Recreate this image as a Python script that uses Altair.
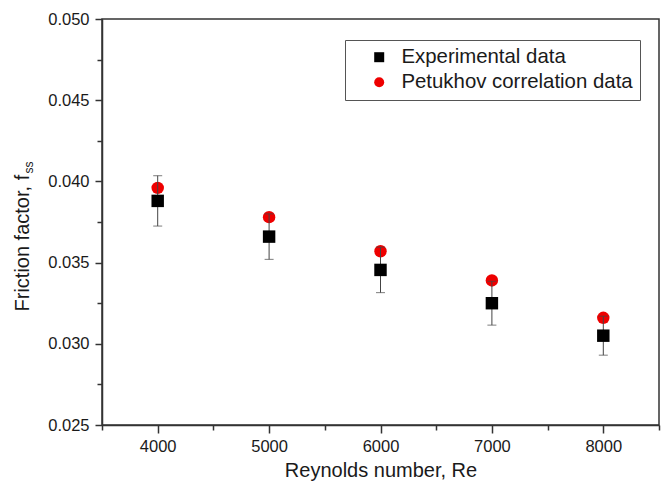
import altair as alt
import pandas as pd

# Reynolds numbers tested
reynolds = [4000, 5000, 6000, 7000, 8000]
# Measured friction factor and its uncertainty
f_experimental = [0.0388, 0.0366, 0.03455, 0.0325, 0.0305]
f_error = [0.00155, 0.0014, 0.0014, 0.00135, 0.0012]
# Friction factor from the Petukhov correlation
f_petukhov = [0.0396, 0.0378, 0.0357, 0.0339, 0.0316]

series_names = ["Experimental data", "Petukhov correlation data"]
series_colors = ["#000000", "#ee0000"]
series_shapes = ["square", "circle"]

exp_df = pd.DataFrame({
    "Re": reynolds,
    "f": f_experimental,
    "err": f_error,
    "series": series_names[0],
})
pet_df = pd.DataFrame({
    "Re": reynolds,
    "f": f_petukhov,
    "series": series_names[1],
})

FONT = "Liberation Sans"
TEXT = "#1a1a1a"

x_ticks = [3500 + 500 * i for i in range(11)]
y_ticks = [round(0.025 + 0.0025 * i, 4) for i in range(11)]

x_scale = alt.Scale(domain=[3500, 8500], nice=False, zero=False)
y_scale = alt.Scale(domain=[0.025, 0.050], nice=False, zero=False)

x_axis = alt.Axis(
    values=x_ticks,
    labelExpr="datum.value % 1000 == 0 ? format(datum.value, 'd') : ''",
    tickSize={"condition": {"test": "datum.value % 1000 == 0", "value": 8}, "value": 5},
    title="Reynolds number, Re",
    titleFontSize=20,
    titleFontWeight="normal",
    titleFont=FONT,
    titleColor=TEXT,
    titlePadding=6,
    labelFontSize=16.5,
    labelFont=FONT,
    labelColor=TEXT,
    labelPadding=5,
    grid=False,
    domainColor="#333333",
    domainWidth=1.5,
    tickColor="#333333",
    tickWidth=1.5,
)
y_axis = alt.Axis(
    values=y_ticks,
    labelExpr="round(datum.value * 400) % 2 == 0 ? format(datum.value, '.3f') : ''",
    tickSize={"condition": {"test": "round(datum.value * 400) % 2 == 0", "value": 7}, "value": 5},
    title=None,
    labelFontSize=16.5,
    labelFont=FONT,
    labelColor=TEXT,
    labelPadding=6,
    grid=False,
    domainColor="#333333",
    domainWidth=1.5,
    tickColor="#333333",
    tickWidth=1.5,
)

color = alt.Color(
    "series:N",
    scale=alt.Scale(domain=series_names, range=series_colors),
    legend=alt.Legend(
        title=None,
        orient="none",
        legendX=243,
        legendY=21,
        direction="vertical",
        labelFontSize=20.4,
        labelFont=FONT,
        labelColor=TEXT,
        symbolSize=100,
        symbolStrokeWidth=0,
        symbolOffset=17,
        labelOffset=12,
        padding=7,
        rowPadding=4,
        strokeColor="#555555",
        fillColor="white",
        labelLimit=400,
    ),
)
shape = alt.Shape(
    "series:N",
    scale=alt.Scale(domain=series_names, range=series_shapes),
    legend=None,
)

x_enc = alt.X("Re:Q", scale=x_scale, axis=x_axis)
y_enc = alt.Y("f:Q", scale=y_scale, axis=y_axis)

petukhov_points = alt.Chart(pet_df).mark_point(filled=True, size=155, opacity=1).encode(
    x=x_enc, y=y_enc, color=color, shape=shape
)

error_bars = alt.Chart(exp_df).mark_errorbar(
    ticks={"size": 9, "thickness": 1, "color": "#444444"},
    rule={"color": "#444444", "strokeWidth": 1},
).encode(
    x=alt.X("Re:Q", scale=x_scale),
    y=alt.Y("f:Q", scale=y_scale),
    yError="err:Q",
)

experimental_points = alt.Chart(exp_df).mark_point(filled=True, size=155, opacity=1).encode(
    x=x_enc, y=y_enc, color=color, shape=shape
)

# Y axis title with a subscript, drawn as two text marks
y_title_main = alt.Chart(pd.DataFrame({"t": ["Friction factor, f"]})).mark_text(
    angle=270, align="left", baseline="alphabetic", fontSize=20, font=FONT, color=TEXT
).encode(x=alt.value(-73.5), y=alt.value(292.5), text="t:N")

y_title_sub = alt.Chart(pd.DataFrame({"t": ["ss"]})).mark_text(
    angle=270, align="left", baseline="alphabetic", fontSize=12, font=FONT, color=TEXT
).encode(x=alt.value(-69), y=alt.value(154.5), text="t:N")

chart = alt.layer(
    petukhov_points, error_bars, experimental_points, y_title_main, y_title_sub
).properties(
    width=557,
    height=406,
    autosize=alt.AutoSizeParams(type="none"),
    padding={"left": 102, "top": 19, "right": 6, "bottom": 64},
    background="white",
).configure_view(
    stroke="#333333", strokeWidth=1.5
)

chart.save("out.html", embed_options={"renderer": "svg", "actions": False})
